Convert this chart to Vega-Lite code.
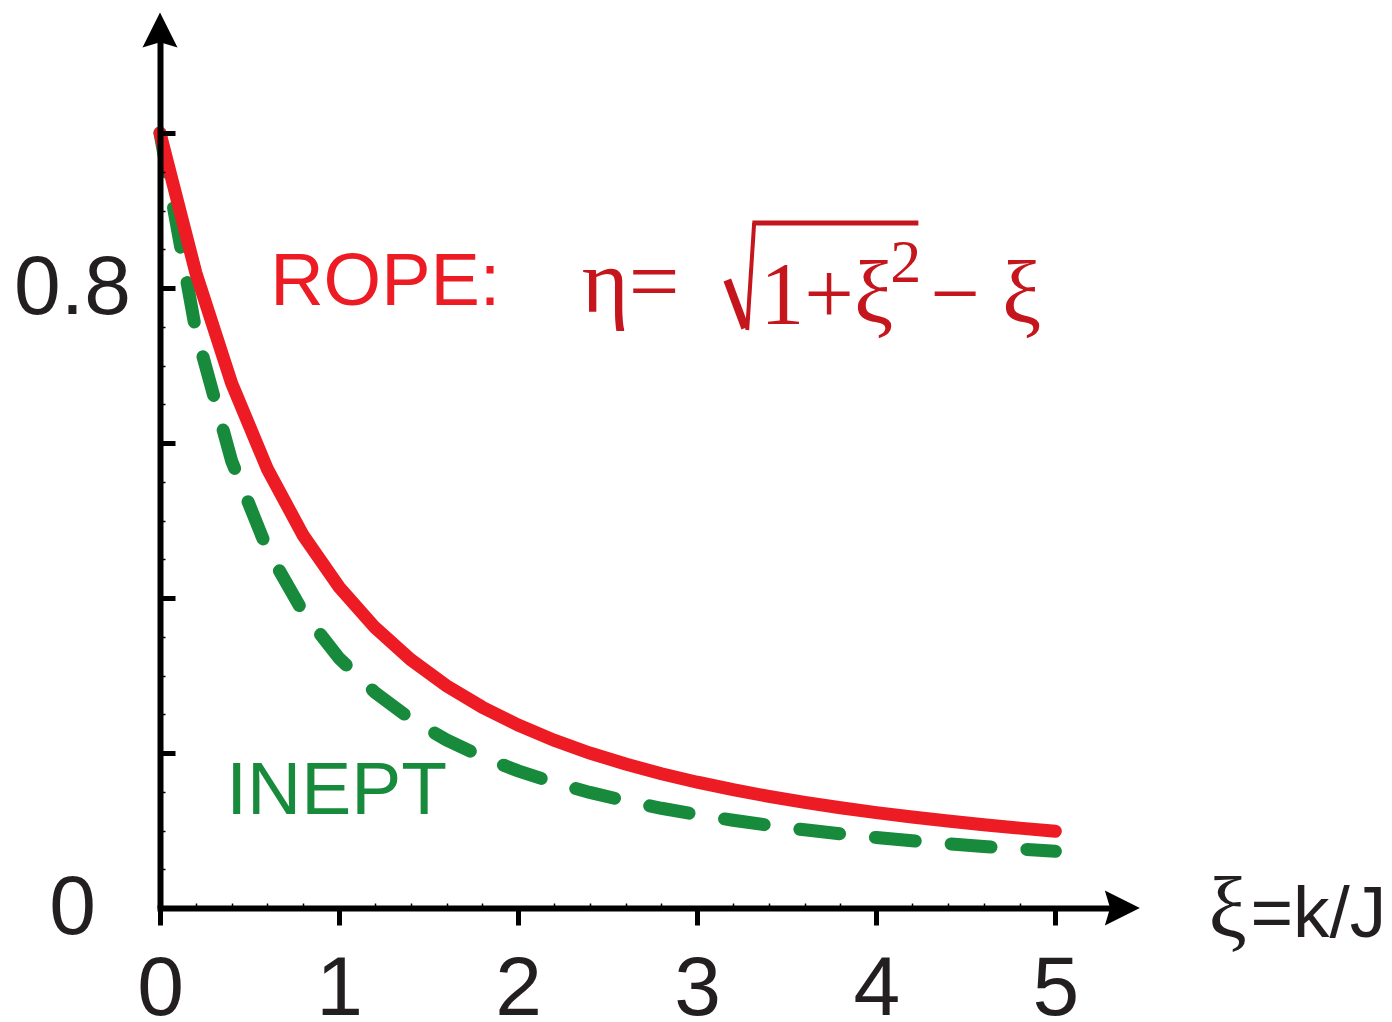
{
  "$schema": "https://vega.github.io/schema/vega-lite/v6.json",
  "width": 967,
  "height": 868,
  "autosize": "none",
  "padding": {"left": 160, "top": 40, "right": 265, "bottom": 114},
  "background": "white",
  "config": {"view": {"stroke": null}},
  "data": {"values": [{}]},
  "datasets": {
    "rope": [
      {"xi": 0, "eta": 1}, {"xi": 0.2, "eta": 0.8198}, {"xi": 0.4, "eta": 0.677}, {"xi": 0.6, "eta": 0.5662},
      {"xi": 0.8, "eta": 0.4806}, {"xi": 1, "eta": 0.4142}, {"xi": 1.2, "eta": 0.362}, {"xi": 1.4, "eta": 0.3205},
      {"xi": 1.6, "eta": 0.2868}, {"xi": 1.8, "eta": 0.2591}, {"xi": 2, "eta": 0.2361}, {"xi": 2.2, "eta": 0.2166},
      {"xi": 2.4, "eta": 0.2}, {"xi": 2.6, "eta": 0.1857}, {"xi": 2.8, "eta": 0.1732}, {"xi": 3, "eta": 0.1623},
      {"xi": 3.2, "eta": 0.1526}, {"xi": 3.4, "eta": 0.144}, {"xi": 3.6, "eta": 0.1363}, {"xi": 3.8, "eta": 0.1294},
      {"xi": 4, "eta": 0.1231}, {"xi": 4.2, "eta": 0.1174}, {"xi": 4.4, "eta": 0.1122}, {"xi": 4.6, "eta": 0.1074},
      {"xi": 4.8, "eta": 0.1031}, {"xi": 5, "eta": 0.099}
    ],
    "inept": [
      {"xi": 0, "eta": 1}, {"xi": 0.2, "eta": 0.745}, {"xi": 0.4, "eta": 0.5768}, {"xi": 0.6, "eta": 0.4621},
      {"xi": 0.8, "eta": 0.3813}, {"xi": 1, "eta": 0.3224}, {"xi": 1.2, "eta": 0.2782}, {"xi": 1.4, "eta": 0.2439},
      {"xi": 1.6, "eta": 0.2168}, {"xi": 1.8, "eta": 0.1949}, {"xi": 2, "eta": 0.1769}, {"xi": 2.2, "eta": 0.1619},
      {"xi": 2.4, "eta": 0.1491}, {"xi": 2.6, "eta": 0.1382}, {"xi": 2.8, "eta": 0.1287}, {"xi": 3, "eta": 0.1204},
      {"xi": 3.2, "eta": 0.1132}, {"xi": 3.4, "eta": 0.1067}, {"xi": 3.6, "eta": 0.1009}, {"xi": 3.8, "eta": 0.0957},
      {"xi": 4, "eta": 0.091}, {"xi": 4.2, "eta": 0.0868}, {"xi": 4.4, "eta": 0.0829}, {"xi": 4.6, "eta": 0.0794},
      {"xi": 4.8, "eta": 0.0761}, {"xi": 5, "eta": 0.0731}
    ]
  },
  "resolve": {"axis": {"x": "independent", "y": "independent"}},
  "layer": [
    {
      "data": {"name": "inept"},
      "mark": {"type": "line", "color": "#178a3c", "strokeWidth": 13, "strokeDash": [40, 36], "strokeCap": "round"},
      "encoding": {
        "x": {
          "field": "xi", "type": "quantitative",
          "scale": {"domain": [0, 5.4], "nice": false, "zero": false},
          "axis": {
            "orient": "bottom", "values": [0, 1, 2, 3, 4, 5], "format": "d", "title": null, "grid": false,
            "domainColor": "#000", "domainWidth": 6, "domainCap": "square", "tickColor": "#000", "tickWidth": 5, "tickSize": 17,
            "labelFont": "Liberation Sans", "labelFontSize": 84, "labelColor": "#231f20",
            "labelBaseline": "alphabetic", "labelPadding": 89, "labelFlush": false, "labelOverlap": false,
            "labelBound": false, "zindex": 1
          }
        },
        "y": {
          "field": "eta", "type": "quantitative",
          "scale": {"domain": [0, 1.12], "nice": false, "zero": false},
          "axis": {
            "orient": "left", "values": [0, 0.2, 0.4, 0.6, 0.8, 1.0], "title": null, "grid": false,
            "labelExpr": "datum.value == 0 ? '0' : (datum.value == 0.8 ? '0.8' : '')",
            "domainColor": "#000", "domainWidth": 6, "tickColor": "#000", "tickWidth": 5, "tickSize": -15,
            "labelFont": "Liberation Sans", "labelFontSize": 84, "labelColor": "#231f20",
            "labelAlign": "center", "labelBaseline": "middle", "labelPadding": 103, "labelOverlap": false,
            "labelBound": false, "labelFlush": false, "zindex": 1
          }
        }
      }
    },
    {
      "data": {"name": "rope"},
      "mark": {"type": "line", "color": "#ed1c24", "strokeWidth": 13, "strokeCap": "round"},
      "encoding": {
        "x": {
          "field": "xi", "type": "quantitative",
          "axis": {
            "orient": "bottom", "values": [0.2, 0.4, 0.6, 0.8, 1.2, 1.4, 1.6, 1.8, 2.2, 2.4, 2.6, 2.8, 3.2, 3.4, 3.6, 3.8, 4.2, 4.4, 4.6, 4.8],
            "title": null, "grid": false, "domain": false, "labels": false,
            "tickColor": "#000", "tickWidth": 1.5, "tickSize": -5, "zindex": 1
          }
        },
        "y": {
          "field": "eta", "type": "quantitative",
          "axis": {
            "orient": "left", "values": [0.05, 0.1, 0.15, 0.25, 0.3, 0.35, 0.45, 0.5, 0.55, 0.65, 0.7, 0.75, 0.85, 0.9, 0.95],
            "title": null, "grid": false, "domain": false, "labels": false,
            "tickColor": "#000", "tickWidth": 1.5, "tickSize": -5, "zindex": 1
          }
        }
      }
    },
    {
      "mark": {"type": "point", "shape": "M1,0L-1,-1L-0.7,0L-1,1Z", "filled": true, "color": "#000", "opacity": 1, "size": 1225, "strokeWidth": 0},
      "encoding": {
        "x": {"datum": 5.374, "type": "quantitative", "axis": null},
        "y": {"datum": 0, "type": "quantitative", "axis": null}
      }
    },
    {
      "mark": {"type": "point", "shape": "M0,-1L1,1L0,0.7L-1,1Z", "filled": true, "color": "#000", "opacity": 1, "size": 1225, "strokeWidth": 0},
      "encoding": {
        "x": {"datum": 0, "type": "quantitative", "axis": null},
        "y": {"datum": 1.133, "type": "quantitative", "axis": null}
      }
    },
    {
      "mark": {"type": "text", "text": "ROPE:", "font": "Liberation Sans", "fontSize": 74, "color": "#ed1c24", "align": "left", "baseline": "alphabetic"},
      "encoding": {
        "x": {"datum": 0.615, "type": "quantitative", "axis": null},
        "y": {"datum": 0.778, "type": "quantitative", "axis": null}
      }
    },
    {
      "mark": {"type": "text", "text": "INEPT", "font": "Liberation Sans", "fontSize": 75, "color": "#178a3c", "align": "left", "baseline": "alphabetic"},
      "encoding": {
        "x": {"datum": 0.37, "type": "quantitative", "axis": null},
        "y": {"datum": 0.1213, "type": "quantitative", "axis": null}
      }
    },
    {
      "mark": {"type": "text", "text": "η=", "font": "Liberation Serif", "fontSize": 90, "color": "#c4161c", "align": "left", "baseline": "alphabetic"},
      "encoding": {
        "x": {"datum": 2.355, "type": "quantitative", "axis": null},
        "y": {"datum": 0.769, "type": "quantitative", "axis": null}
      }
    },
    {
      "mark": {"type": "rule", "color": "#c4161c", "strokeWidth": 8},
      "encoding": {
        "x": {"datum": 3.168, "type": "quantitative", "axis": null},
        "x2": {"datum": 3.268},
        "y": {"datum": 0.8103, "type": "quantitative", "axis": null},
        "y2": {"datum": 0.7484}
      }
    },
    {
      "mark": {"type": "rule", "color": "#c4161c", "strokeWidth": 4},
      "encoding": {
        "x": {"datum": 3.279, "type": "quantitative", "axis": null},
        "x2": {"datum": 3.318},
        "y": {"datum": 0.7458, "type": "quantitative", "axis": null},
        "y2": {"datum": 0.8839}
      }
    },
    {
      "mark": {"type": "rule", "color": "#c4161c", "strokeWidth": 5},
      "encoding": {
        "x": {"datum": 3.308, "type": "quantitative", "axis": null},
        "x2": {"datum": 4.235},
        "y": {"datum": 0.8839, "type": "quantitative", "axis": null}
      }
    },
    {
      "mark": {"type": "text", "text": "1+ξ", "font": "Liberation Serif", "fontSize": 88, "color": "#c4161c", "align": "left", "baseline": "alphabetic"},
      "encoding": {
        "x": {"datum": 3.352, "type": "quantitative", "axis": null},
        "y": {"datum": 0.755, "type": "quantitative", "axis": null}
      }
    },
    {
      "mark": {"type": "text", "text": "2", "font": "Liberation Serif", "fontSize": 62, "color": "#c4161c", "align": "left", "baseline": "alphabetic"},
      "encoding": {
        "x": {"datum": 4.078, "type": "quantitative", "axis": null},
        "y": {"datum": 0.808, "type": "quantitative", "axis": null}
      }
    },
    {
      "mark": {"type": "text", "text": "− ξ", "font": "Liberation Serif", "fontSize": 88, "color": "#c4161c", "align": "left", "baseline": "alphabetic"},
      "encoding": {
        "x": {"datum": 4.302, "type": "quantitative", "axis": null},
        "y": {"datum": 0.755, "type": "quantitative", "axis": null}
      }
    },
    {
      "mark": {"type": "text", "text": "ξ", "font": "Liberation Serif", "fontSize": 86, "color": "#231f20", "align": "left", "baseline": "alphabetic"},
      "encoding": {
        "x": {"datum": 5.855, "type": "quantitative", "axis": null},
        "y": {"datum": -0.0374, "type": "quantitative", "axis": null}
      }
    },
    {
      "mark": {"type": "text", "text": "=k/J", "font": "Liberation Sans", "fontSize": 73, "color": "#231f20", "align": "left", "baseline": "alphabetic"},
      "encoding": {
        "x": {"datum": 6.089, "type": "quantitative", "axis": null},
        "y": {"datum": -0.0374, "type": "quantitative", "axis": null}
      }
    }
  ]
}
